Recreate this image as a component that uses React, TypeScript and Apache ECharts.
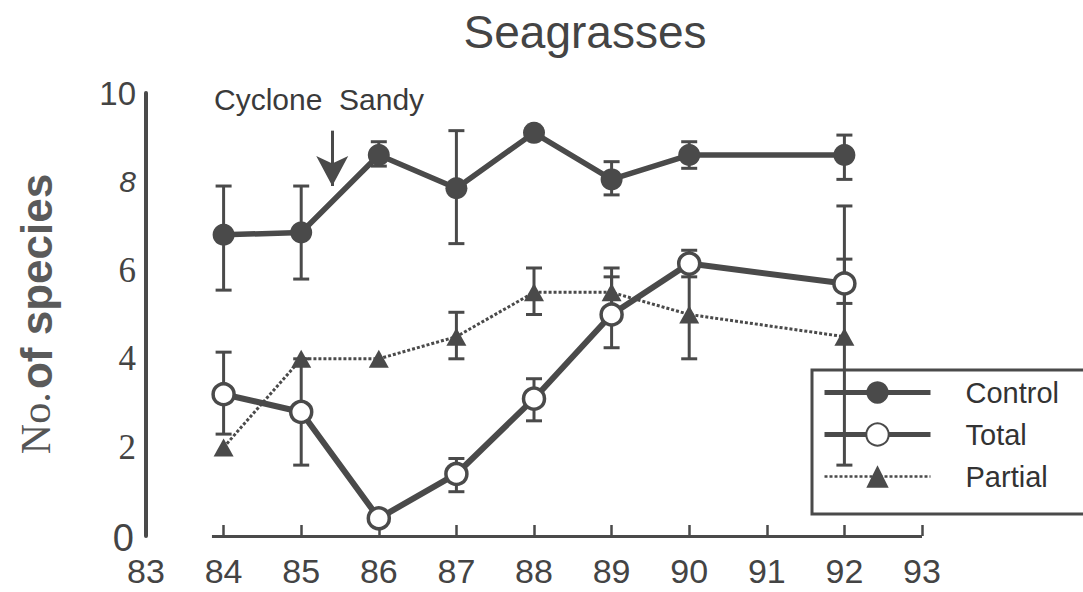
import React, { useEffect, useRef } from 'react';
import * as echarts from 'echarts';

const SANS = '"Liberation Sans", Arial, sans-serif';
const SERIF = '"Liberation Serif", "Times New Roman", serif';
const INK = '#4a4a4a';

const years = [84, 85, 86, 87, 88, 89, 90, 92];
const control = [6.8, 6.85, 8.6, 7.85, 9.1, 8.05, 8.6, 8.6];
const total = [3.2, 2.8, 0.4, 1.4, 3.1, 5.0, 6.15, 5.7];
const partial = [2.0, 4.0, 4.0, 4.5, 5.5, 5.5, 5.0, 4.5];

const controlErr: (number[] | null)[] = [[5.55, 7.9], [5.8, 7.9], [8.35, 8.9], [6.6, 9.15], null, [7.7, 8.45], [8.3, 8.9], [8.05, 9.05]];
const totalErr: (number[] | null)[] = [[2.3, 4.15], [1.6, 4.0], null, [1.0, 1.75], [2.6, 3.55], [4.25, 5.85], [5.85, 6.45], [5.25, 6.25]];
const partialErr: (number[] | null)[] = [null, null, null, [4.0, 5.05], [5.0, 6.05], [5.1, 6.05], [4.0, 6.0], [1.6, 7.45]];

const xMin = 83;
const xMax = 93;
const yMin = 0;
const yMax = 10;
const yStep = 2;
const axisStart = 83.85;
const cycloneYear = 85.4;
const cycloneFrom = 9.15;
const cycloneTo = 7.9;

const pts = (vals: number[]) => years.map((y, i) => [y, vals[i]]);
const errPts = (errs: (number[] | null)[]) =>
  years.map((y, i) => (errs[i] ? [y, (errs[i] as number[])[0], (errs[i] as number[])[1]] : null)).filter(Boolean) as number[][];

const errSeries = (data: number[][]) => ({
  type: 'custom',
  silent: true,
  z: 1,
  encode: { x: 0, y: [1, 2] },
  data,
  renderItem: (params: any, api: any) => {
    const x = api.value(0);
    const lo = api.coord([x, api.value(1)]);
    const hi = api.coord([x, api.value(2)]);
    const w = 8;
    const style = { stroke: INK, lineWidth: 3 };
    return {
      type: 'group',
      children: [
        { type: 'line', shape: { x1: lo[0], y1: lo[1], x2: hi[0], y2: hi[1] }, style },
        { type: 'line', shape: { x1: lo[0] - w, y1: lo[1], x2: lo[0] + w, y2: lo[1] }, style },
        { type: 'line', shape: { x1: hi[0] - w, y1: hi[1], x2: hi[0] + w, y2: hi[1] }, style },
      ],
    };
  },
});

export default function App() {
  const ref = useRef<HTMLDivElement>(null);
  useEffect(() => {
    if (!ref.current) return;
    const chart = echarts.init(ref.current, undefined, { renderer: 'svg' });
    const option: any = {
      animation: false,
      backgroundColor: '#ffffff',
      grid: { left: 146, right: 161, top: 93, bottom: 56, containLabel: false },
      xAxis: {
        type: 'value',
        min: xMin,
        max: xMax,
        interval: 1,
        axisLine: { show: false },
        axisTick: { show: true, inside: true, length: 11, lineStyle: { color: INK, width: 2.5 } },
        splitLine: { show: false },
        axisLabel: { color: '#444', fontFamily: SANS, fontSize: 34, lineHeight: 34, margin: 18 },
      },
      yAxis: {
        type: 'value',
        min: yMin,
        max: yMax,
        interval: yStep,
        axisLine: { show: true, lineStyle: { color: INK, width: 4 } },
        axisTick: { show: false },
        splitLine: { show: false },
        axisLabel: {
          margin: 10,
          color: '#444',
          formatter: (v: number) =>
            v === 10 ? '{n|10}' : v === 8 ? '{i|8}' : v === 0 ? '{z|0}' : `{s|${v}}`,
          rich: {
            n: { fontFamily: SANS, fontSize: 33, color: '#444' },
            i: { fontFamily: SANS, fontStyle: 'italic', fontSize: 30, color: '#444' },
            s: { fontFamily: SERIF, fontSize: 35, color: '#444' },
            z: { fontFamily: SANS, fontSize: 38, color: '#444', padding: [4, 2, 0, 0] },
          },
        },
      },
      legend: {
        orient: 'vertical',
        left: 812,
        top: 370,
        data: [
          { name: 'Control', lineStyle: { width: 5 } },
          { name: 'Total', lineStyle: { width: 5 } },
          { name: 'Partial', lineStyle: { width: 2.5 } },
        ],
        itemWidth: 106,
        itemHeight: 28,
        itemGap: 13,
        padding: [8, 40, 23, 10],
        borderColor: INK,
        borderWidth: 3,
        backgroundColor: 'transparent',
        textStyle: { fontFamily: SANS, fontSize: 29, color: '#333', padding: [4, 0, 0, 30] },
      },
      graphic: [
        {
          type: 'text',
          x: 585,
          y: 32,
          style: { text: 'Seagrasses', fontFamily: SANS, fontSize: 46, fill: '#444', align: 'center', verticalAlign: 'middle' },
        },
        {
          type: 'text',
          x: 214,
          y: 99,
          style: { text: 'Cyclone  Sandy', fontFamily: SANS, fontSize: 30, fill: '#3a3a3a', align: 'left', verticalAlign: 'middle' },
        },
        {
          type: 'text',
          x: 36,
          y: 314,
          rotation: Math.PI / 2,
          style: {
            text: '{a|No.} {b|of species}',
            align: 'center',
            verticalAlign: 'middle',
            rich: {
              a: { fontFamily: SERIF, fontSize: 42, fill: '#555' },
              b: { fontFamily: SANS, fontSize: 44, fontWeight: 'bold', fill: '#5a5a5a' },
            },
          },
        },
      ],
      series: [
        errSeries(errPts(controlErr)),
        errSeries(errPts(totalErr)),
        errSeries(errPts(partialErr)),
        {
          name: 'Control',
          type: 'line',
          z: 3,
          data: pts(control),
          symbol: 'circle',
          symbolSize: 22,
          lineStyle: { color: INK, width: 5.5 },
          itemStyle: { color: INK, borderColor: INK, borderWidth: 0 },
          markLine: {
            silent: true,
            label: { show: false },
            data: [
              [
                { coord: [axisStart, yMin], symbol: 'none', lineStyle: { color: INK, width: 3, type: 'solid' } },
                { coord: [xMax, yMin], symbol: 'none' },
              ],
              [
                { coord: [cycloneYear, cycloneFrom], symbol: 'none', lineStyle: { color: INK, width: 3, type: 'solid' } },
                { coord: [cycloneYear, cycloneTo], symbol: 'arrow', symbolSize: [24, 30] },
              ],
            ],
          },
        },
        {
          name: 'Total',
          type: 'line',
          z: 3,
          data: pts(total),
          symbol: 'circle',
          symbolSize: 21,
          lineStyle: { color: INK, width: 6 },
          itemStyle: { color: '#ffffff', borderColor: INK, borderWidth: 3.5 },
        },
        {
          name: 'Partial',
          type: 'line',
          z: 2,
          data: pts(partial),
          symbol: 'triangle',
          symbolSize: [20, 18],
          lineStyle: { color: INK, width: 3, type: [3, 2] },
          itemStyle: { color: INK },
        },
      ],
    };
    chart.setOption(option);
    return () => chart.dispose();
  }, []);
  return <div ref={ref} style={{ position: 'fixed', left: 0, top: 0, width: 1083, height: 592 }} />;
}
